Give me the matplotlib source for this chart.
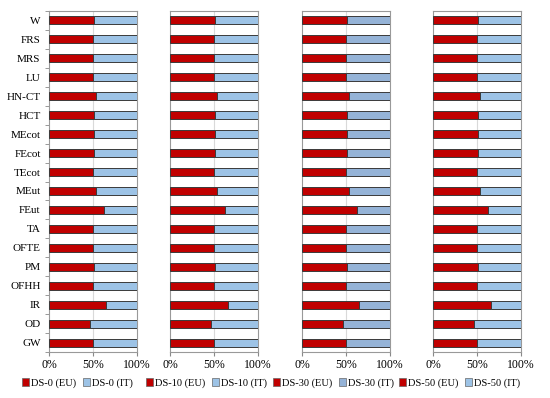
import matplotlib
matplotlib.use("Agg")
import matplotlib.pyplot as plt
import numpy as np
from matplotlib.patches import Patch

plt.rcParams['font.family'] = ['Liberation Serif', 'DejaVu Serif']

categories = ["W", "FRS", "MRS", "LU", "HN-CT", "HCT", "MEcot", "FEcot", "TEcot",
              "MEut", "FEut", "TA", "OFTE", "PM", "OFHH", "IR", "OD", "GW"]
ds0_eu = [0.51, 0.50, 0.50, 0.50, 0.53, 0.51, 0.51, 0.51, 0.50,
          0.53, 0.62, 0.50, 0.50, 0.51, 0.50, 0.65, 0.47, 0.50]
ds10_eu = [0.51, 0.50, 0.50, 0.50, 0.53, 0.51, 0.51, 0.51, 0.50,
           0.53, 0.62, 0.50, 0.50, 0.51, 0.50, 0.66, 0.47, 0.50]
ds30_eu = [0.51, 0.50, 0.50, 0.50, 0.53, 0.51, 0.51, 0.51, 0.50,
           0.53, 0.62, 0.50, 0.50, 0.51, 0.50, 0.65, 0.47, 0.50]
ds50_eu = [0.51, 0.50, 0.50, 0.50, 0.53, 0.51, 0.51, 0.51, 0.50,
           0.53, 0.63, 0.50, 0.50, 0.51, 0.50, 0.66, 0.47, 0.50]
scenarios = ["DS-0", "DS-10", "DS-30", "DS-50"]
eu_values = [ds0_eu, ds10_eu, ds30_eu, ds50_eu]
xticklabels = ["0%", "50%", "100%"]

red = "#C00000"
blues = ["#9DC3E6", "#9DC3E6", "#95B3D7", "#9DC3E6"]
edge = "#3a3a3a"

W, H = 550, 398
fig = plt.figure(figsize=(W / 100, H / 100), dpi=100)

lefts = [49, 170, 302, 433]
width = 88
top, bottom = 11, 352

y = np.arange(len(categories))
for i, (l, vals) in enumerate(zip(lefts, eu_values)):
    ax = fig.add_axes([l / W, 1 - bottom / H, width / W, (bottom - top) / H])
    eu = np.array(vals)
    it = 1 - eu
    ax.barh(y, eu, height=0.42, color=red, edgecolor=edge, linewidth=0.7, zorder=3)
    ax.barh(y, it, left=eu, height=0.42, color=blues[i], edgecolor=edge, linewidth=0.7, zorder=3)
    ax.set_xlim(0, 1)
    ax.set_ylim(len(categories) - 0.5, -0.5)
    ax.set_xticks([0, 0.5, 1])
    ax.set_xticklabels(xticklabels, fontsize=8.5)
    ax.axvline(0.5, color="#d9d9d9", lw=0.8, zorder=1)
    ax.set_yticks(y)
    if i == 0:
        ax.set_yticklabels(categories, fontsize=8)
        ax.set_yticks(np.arange(-0.5, len(categories), 1), minor=True)
        ax.tick_params(axis='y', which='minor', length=3, color="#888888")
    else:
        ax.set_yticklabels([])
    ax.tick_params(axis='y', which='major', length=0, pad=6)
    ax.tick_params(axis='x', length=3, color="#888888", pad=2)
    for s in ax.spines.values():
        s.set_color("#999999")
        s.set_linewidth(0.8)

leg_x = [22, 146, 273, 399]
for i, lx in enumerate(leg_x):
    handles = [Patch(facecolor=red, edgecolor="#666666", linewidth=0.5, label=f"{scenarios[i]} (EU)"),
               Patch(facecolor=blues[i], edgecolor="#666666", linewidth=0.5, label=f"{scenarios[i]} (IT)")]
    fig.legend(handles=handles, loc='center left', bbox_to_anchor=(lx / W, 1 - 383 / H),
               ncol=2, frameon=False, fontsize=7.5, handlelength=0.7, handleheight=0.7,
               handletextpad=0.2, columnspacing=0.6, borderpad=0, borderaxespad=0)

fig.savefig("out.png", dpi=100)
